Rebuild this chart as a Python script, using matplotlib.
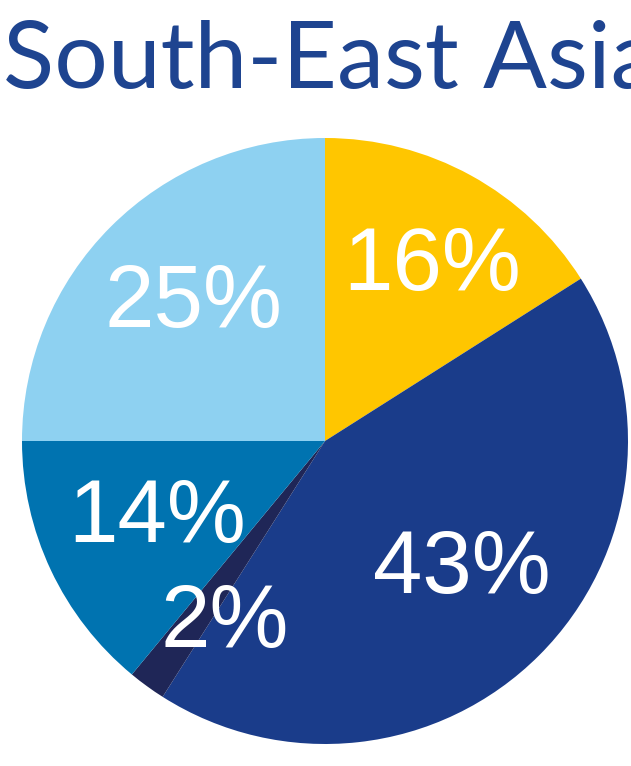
import numpy as np
import matplotlib.pyplot as plt

# share of each segment, clockwise from the top
labels = ["16%", "43%", "2%", "14%", "25%"]
shares = [16, 43, 2, 14, 25]
colors = ["#FFC600", "#1A3C8A", "#1F2657", "#0073B0", "#8ED1F1"]
# label placement: fraction of radius, angle shift from wedge middle (deg)
label_radius = [0.70, 0.60, 0.66, 0.60, 0.65]
label_shift = [-1.5, 4, 6, -3, -3]

fig = plt.figure(figsize=(6.31, 7.66), dpi=100)
ax = fig.add_axes([0, 0, 1, 1])

cx, cy, r = 325, 325, 303
wedges, _ = ax.pie(
    shares,
    colors=colors,
    startangle=90,
    counterclock=False,
    center=(cx, cy),
    radius=r,
    frame=True,
    wedgeprops=dict(linewidth=0),
)
ax.set_xlim(0, 631)
ax.set_ylim(0, 766)
ax.axis("off")

for w, lab, d, s in zip(wedges, labels, label_radius, label_shift):
    ang = np.deg2rad((w.theta1 + w.theta2) / 2 + s)
    ax.text(cx + d * r * np.cos(ang), cy + d * r * np.sin(ang), lab,
            color="white", fontsize=64, family="Liberation Sans",
            ha="center", va="center_baseline")

fig.text(0.004, 0.885, "South-East Asia", color="#1E4490", fontsize=68,
         family="Lato", ha="left", va="baseline")

fig.savefig("out.png", dpi=100)
